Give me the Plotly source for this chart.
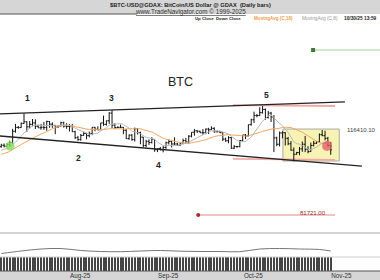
import plotly.graph_objects as go
import pandas as pd

# ---------------- data (prices in thousands USD) ----------------
dates = pd.date_range("2025-07-06", "2025-10-30", freq="D")

open_ = [109.6,110.2,109.8,110.5,111.3,115.9,117.5,117.4,119.1,119.8,117.7,118.7,119.3,117.9,117.3,117.5,117.4,119.9,118.8,118.3,117.6,117.9,119.4,118.0,117.9,117.8,
         115.7,113.3,112.5,114.2,115.0,114.1,115.0,117.5,116.7,116.5,119.3,118.7,120.2,123.3,118.4,117.4,117.5,117.5,116.3,112.9,114.3,112.5,116.9,115.4,113.5,110.1,111.8,111.3,112.6,108.4,108.8,
         108.3,109.3,111.2,111.7,110.7,110.7,110.2,111.1,112.1,111.5,113.9,115.5,116.1,115.9,115.3,115.3,116.8,116.5,117.1,115.7,115.7,115.3,112.7,112.0,113.3,109.0,109.7,109.7,112.1,114.4,
         114.0,118.6,120.6,122.3,122.3,123.5,124.8,121.5,123.3,121.7,113.2,110.6,115.2,115.3,113.0,110.8,108.2,106.5,107.2,108.7,110.6,108.5,107.6,110.1,111.0,111.6,114.5,114.1,113.0,110.1]
high = [110.8,110.9,111.0,112.0,116.9,118.9,118.0,119.5,123.2,120.0,120.1,120.9,120.8,118.6,118.9,119.7,120.2,120.0,119.5,118.5,118.3,119.8,119.8,119.2,118.8,118.9,
        116.1,114.0,114.8,115.7,115.1,115.8,117.6,117.7,117.9,119.3,122.3,120.3,123.7,124.5,119.2,117.9,118.6,117.6,116.8,114.6,114.8,117.4,117.0,115.7,113.6,112.4,112.6,113.5,112.6,108.9,109.5,
        109.9,111.7,112.6,112.2,113.4,111.2,111.3,112.9,113.2,114.3,115.5,116.8,116.3,116.1,116.8,117.0,117.3,117.9,117.5,116.2,115.9,115.4,113.3,113.9,113.5,110.3,109.8,112.3,114.4,114.8,
        118.6,121.0,123.9,122.9,125.7,126.2,125.2,124.2,123.8,122.5,113.7,115.8,115.9,115.5,113.6,111.9,109.3,107.5,109.5,111.7,114.0,109.8,111.3,112.0,111.9,115.0,116.4,116.1,113.6,111.5]
low = [109.2,109.3,109.4,109.6,110.6,115.3,116.9,117.3,118.9,115.7,117.0,117.9,116.8,117.3,116.5,116.5,116.1,117.3,117.3,114.7,117.2,117.8,117.4,116.9,115.8,115.6,
       112.7,112.0,112.0,114.0,112.6,113.4,114.3,115.9,116.3,116.4,118.1,118.2,118.9,117.2,116.8,117.2,117.2,114.7,112.7,112.4,112.0,111.7,114.6,110.6,109.3,109.3,110.3,110.9,107.5,107.4,108.1,
       107.3,108.7,110.5,109.3,110.2,110.2,110.0,110.6,110.8,110.8,113.4,114.1,115.2,115.2,114.4,114.7,114.8,116.4,115.3,115.5,115.2,111.9,111.6,111.0,108.7,108.6,109.1,109.3,111.6,112.7,
       113.8,118.2,119.3,121.6,122.1,123.1,120.6,121.1,119.7,107.4,109.8,109.7,113.0,110.1,110.2,107.9,103.6,106.3,106.1,107.5,107.4,106.9,107.5,109.7,110.7,111.3,113.9,112.2,109.6,106.3]
close = [110.2,109.8,110.5,111.3,115.9,117.5,117.4,119.1,119.8,117.7,118.7,119.3,117.9,117.3,117.5,117.4,119.9,118.8,118.3,117.6,117.9,119.4,118.0,117.9,117.8,115.7,
         113.3,112.5,114.2,115.0,114.1,115.0,117.5,116.7,116.5,119.3,118.7,120.2,123.3,118.4,117.4,117.5,117.5,116.3,112.9,114.3,112.5,116.9,115.4,113.5,110.1,111.8,111.3,112.6,108.4,108.8,108.3,
         109.3,111.2,111.7,110.7,110.7,110.2,111.1,112.1,111.5,113.9,115.5,116.1,115.9,115.3,115.3,116.8,116.5,117.1,115.7,115.7,115.3,112.7,112.0,113.3,109.0,109.7,109.7,112.1,114.4,114.0,
         118.6,120.6,122.3,122.3,123.5,124.8,121.5,123.3,121.7,113.2,110.6,115.2,115.3,113.0,110.8,108.2,106.5,107.2,108.7,110.6,108.5,107.6,110.1,111.0,111.6,114.5,114.1,113.0,110.1,108.3]
# closes before the visible window (Jun 18 - Jul 5), used to seed the moving averages
seed_close = [104.9,104.6,103.3,102.1,100.9,105.5,106.0,107.3,106.9,107.1,107.3,108.4,107.1,105.7,108.8,109.6,108.0,108.2]

volume = [4100,5200,5600,7300,12800,11900,6100,5900,13100,12400,8700,9100,8800,5400,5800,7600,8400,7200,6900,8800,4300,4700,7100,6600,6800,8900,
          10200,5400,4900,6300,6800,5900,7400,6500,4300,5100,8900,7700,8600,14200,8300,4200,4000,6900,9400,7900,7300,10800,6200,4800,9600,8800,7100,6400,9900,5200,4400,
          5100,7000,6300,6700,7200,3900,3800,5600,6300,6500,7300,7100,3600,3500,5200,5900,7100,6800,5500,3300,3400,7900,7300,6900,9800,6400,3600,4300,6900,6500,
          8900,9700,8100,4600,6300,7700,9200,7200,7500,17800,12100,9400,7800,8900,8100,8800,11200,4300,4800,7100,8300,7400,6200,5900,3600,4100,7400,7300,6900,8200]

# indicator curve in the middle sub-panel (weekly readings)
ind_dates = ["2025-07-06","2025-07-13","2025-07-20","2025-07-27","2025-08-03","2025-08-10","2025-08-17","2025-08-24","2025-08-31",
             "2025-09-07","2025-09-14","2025-09-21","2025-09-28","2025-10-05","2025-10-12","2025-10-19","2025-10-26","2025-10-30"]
ind_vals = [3.5,6.0,8.0,8.5,6.5,5.5,5.3,6.0,6.5,5.8,5.5,5.5,5.3,8.0,8.5,8.0,7.5,6.0]

# channel lines, levels and drawing anchors
upper_chan = (["2025-07-05 12:00", "2025-11-04 00:00"], [123.0, 127.9])
lower_chan = (["2025-07-05 12:00", "2025-11-10 00:00"], [113.96, 101.7])
pink_hi = (["2025-09-25 14:00", "2025-10-31 12:00"], [126.6, 126.2])
pink_lo = (["2025-09-25 14:00", "2025-10-31 12:00"], [104.6, 104.2])
box = (["2025-10-13 04:00", "2025-11-02 00:00"], [103.76, 116.8])
level_hi_text = "116410.10"
level_hi = 116.4101
level_lo_text = "81721.00"
level_lo = 81.721
target_hi = 149.06
red_dot = ("2025-10-28 17:00", 109.9)
green_dot = ("2025-07-09 02:00", 109.9)

month_ticks = ["2025-08-01", "2025-09-01", "2025-10-01", "2025-11-01"]
month_text = ["Aug-25", "Sep-25", "Oct-25", "Nov-25"]

# ---------------- derived ----------------
all_close = pd.Series(seed_close + close)
ma18 = all_close.rolling(18).mean().iloc[len(seed_close):].tolist()
ma8 = all_close.rolling(8).mean().iloc[len(seed_close):].tolist()

PXD = 2.84  # px per day
x0 = pd.Timestamp("2025-07-14") - pd.Timedelta(days=24 / PXD)
x1 = x0 + pd.Timedelta(days=380 / PXD)
xr = [x0, x1]

W, H = 380, 280
def py(p):
    return 1 - p / H
def px(p):
    return p / W

FONT = "Arial, Liberation Sans, sans-serif"

fig = go.Figure()

fig.add_trace(go.Scatter(x=dates, y=ma18, mode="lines", line=dict(color="#f2a65e", width=1), xaxis="x", yaxis="y"))
fig.add_trace(go.Scatter(x=dates, y=ma8, mode="lines", line=dict(color="#b8b8b8", width=1), xaxis="x", yaxis="y"))
fig.add_trace(go.Ohlc(x=dates, open=open_, high=high, low=low, close=close, tickwidth=0.45,
                      increasing=dict(line=dict(color="#111", width=1)),
                      decreasing=dict(line=dict(color="#111", width=1)),
                      xaxis="x", yaxis="y"))
# level lines
fig.add_trace(go.Scatter(x=[pd.Timestamp("2025-10-23 19:00"), x1], y=[target_hi, target_hi], mode="lines",
                         line=dict(color="#a6d49a", width=1.2), xaxis="x", yaxis="y"))
fig.add_trace(go.Scatter(x=[pd.Timestamp("2025-10-23 19:00")], y=[target_hi], mode="markers",
                         marker=dict(color="#3d7a33", size=4, symbol="square"), xaxis="x", yaxis="y"))
fig.add_trace(go.Scatter(x=["2025-09-13 08:00", "2025-10-31 12:00"], y=[level_lo, level_lo], mode="lines",
                         line=dict(color="#e08a86", width=1.2), xaxis="x", yaxis="y"))
fig.add_trace(go.Scatter(x=["2025-09-13 08:00"], y=[level_lo], mode="markers",
                         marker=dict(color="#b02a2a", size=4), xaxis="x", yaxis="y"))
# dots
fig.add_trace(go.Scatter(x=[red_dot[0]], y=[red_dot[1]], mode="markers",
                         marker=dict(color="rgba(228,88,100,0.75)", size=10), xaxis="x", yaxis="y"))
fig.add_trace(go.Scatter(x=[green_dot[0]], y=[green_dot[1]], mode="markers",
                         marker=dict(color="rgba(130,220,90,0.8)", size=9), xaxis="x", yaxis="y"))

# indicator sub-panel
fig.add_trace(go.Scatter(x=ind_dates, y=ind_vals, mode="lines", line=dict(color="#777", width=1, shape="spline"),
                         xaxis="x2", yaxis="y2"))
# volume sub-panel
fig.add_trace(go.Bar(x=dates, y=volume, marker=dict(color="#444", line=dict(width=0)),
                     width=0.36 * 86400000, xaxis="x3", yaxis="y3"))

shapes = [
    dict(type="rect", xref="paper", yref="paper", x0=0, x1=1, y0=py(14), y1=1, fillcolor="#d6d6d6", line=dict(width=0), layer="below"),
    dict(type="line", xref="paper", yref="paper", x0=0, x1=px(137), y0=py(14), y1=py(14), line=dict(color="#555", width=1)),
    dict(type="rect", xref="paper", yref="paper", x0=0, x1=1, y0=0, y1=py(271), fillcolor="#d6d6d6", line=dict(width=0), layer="below"),
    dict(type="line", xref="paper", yref="paper", x0=0, x1=1, y0=py(271), y1=py(271), line=dict(color="#555", width=1)),
    dict(type="line", xref="paper", yref="paper", x0=0, x1=1, y0=py(233), y1=py(233), line=dict(color="#c4c4c4", width=1.5)),
    dict(type="line", xref="paper", yref="paper", x0=0, x1=1, y0=py(257), y1=py(257), line=dict(color="#cfcfcf", width=1)),
    # yellow box
    dict(type="rect", xref="x", yref="y", x0=box[0][0], x1=box[0][1], y0=box[1][0], y1=box[1][1],
         fillcolor="#f7f3b4", line=dict(color="#a8a8a0", width=1), layer="below"),
    # channel lines
    dict(type="line", xref="x", yref="y", x0=upper_chan[0][0], x1=upper_chan[0][1], y0=upper_chan[1][0], y1=upper_chan[1][1],
         line=dict(color="#222", width=1.3)),
    dict(type="line", xref="x", yref="y", x0=lower_chan[0][0], x1=lower_chan[0][1], y0=lower_chan[1][0], y1=lower_chan[1][1],
         line=dict(color="#222", width=1.3)),
    dict(type="line", xref="x", yref="y", x0=pink_hi[0][0], x1=pink_hi[0][1], y0=pink_hi[1][0], y1=pink_hi[1][1],
         line=dict(color="#f2a9a5", width=1.8), layer="below"),
    dict(type="line", xref="x", yref="y", x0=pink_lo[0][0], x1=pink_lo[0][1], y0=pink_lo[1][0], y1=pink_lo[1][1],
         line=dict(color="#f2a9a5", width=1.8), layer="below"),
]

def ann(text, x, y, size, color="#222", bold=False, xanchor="center", family=FONT):
    t = f"<b>{text}</b>" if bold else text
    return dict(text=t, x=px(x), y=py(y), xref="paper", yref="paper", showarrow=False,
                xanchor=xanchor, yanchor="middle", font=dict(size=size, color=color, family=family))

annotations = [
    ann("$BTC-USD@GDAX: BitCoin/US Dollar @ GDAX  (Daily bars)", 190, 5, 5.7, "#222", True),
    ann("<u>www.TradeNavigator.com © 1999-2025</u>", 190, 12, 6.3, "#333"),
    ann("Up Close", 204, 18.5, 4.3, "#222", True),
    ann("Down Close", 228, 18.5, 4.3, "#222", True),
    ann("MovingAvg (C,18)", 273, 18.5, 4.6, "#f0a050", True),
    ann("MovingAvg (C,8)", 319.5, 18.5, 4.8, "#999", False),
    ann("10/30/25 13:59", 342, 18.5, 4.8, "#222", True, "left"),
    ann("BTC", 180, 82, 12.5, "#222"),
    ann("1", 27, 98, 8.5, "#222", True),
    ann("2", 78, 158, 8.5, "#222", True),
    ann("3", 112, 98, 8.5, "#222", True),
    ann("4", 158, 165, 8.5, "#222", True),
    ann("5", 266, 95, 8.5, "#222", True),
    ann(level_hi_text, 345, 130, 6, "#444", False, "left"),
    ann(level_lo_text, 312.5, 213, 6, "#a02828"),
]

ax_common = dict(range=xr, showgrid=False, zeroline=False, showline=False, type="date")
fig.update_layout(
    width=W, height=H, margin=dict(l=0, r=0, t=0, b=0),
    paper_bgcolor="white", plot_bgcolor="rgba(0,0,0,0)",
    showlegend=False, bargap=0,
    xaxis=dict(**ax_common, domain=[0, 1], anchor="y", showticklabels=False, rangeslider=dict(visible=False)),
    yaxis=dict(domain=[py(233), py(14)], range=[74.37, 163.76], showgrid=False, zeroline=False,
               showticklabels=False, anchor="x"),
    xaxis2=dict(**ax_common, domain=[0, 1], anchor="y2", showticklabels=False),
    yaxis2=dict(domain=[py(257), py(233)], range=[0, 24], showgrid=False, zeroline=False,
                showticklabels=False, anchor="x2"),
    xaxis3=dict(**ax_common, domain=[0, 1], anchor="y3", tickmode="array", tickvals=month_ticks,
                ticktext=month_text, ticks="", ticklabelshift=5,
                tickfont=dict(size=6.3, color="#333", family=FONT)),
    yaxis3=dict(domain=[py(271), py(257)], range=[0, 2000], showgrid=False, zeroline=False,
                showticklabels=False, anchor="x3"),
    shapes=shapes, annotations=annotations,
)

fig.write_html("out.html")
